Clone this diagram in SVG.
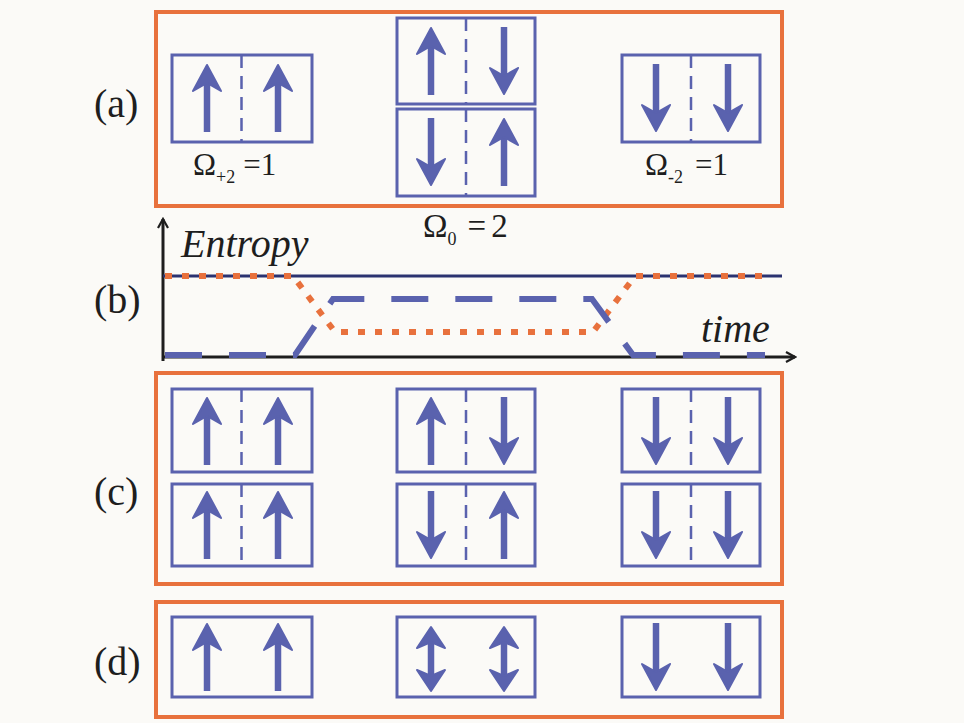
<svg xmlns="http://www.w3.org/2000/svg" width="964" height="723" viewBox="0 0 964 723">
  <style>
    .panel { fill: none; stroke: #E8713D; stroke-width: 4; }
    .cell { fill: none; stroke: #5A62AE; stroke-width: 3; }
    .div { stroke: #5A62AE; stroke-width: 2.5; stroke-dasharray: 13 8; }
    .shaft { stroke: #5A62AE; stroke-width: 6.5; fill: none; }
    .head { fill: #5A62AE; stroke: #5A62AE; stroke-width: 2; stroke-linejoin: round; }
    .serif { font-family: "Liberation Serif", "Times New Roman", serif; fill: #1E1E1E; }
    .lbl { font-size: 40px; }
    .om { font-size: 31px; }
    .sub { font-size: 18px; }
    .ax { font-style: italic; font-size: 40px; }
  </style>
  <defs>
    <!-- spin arrows, drawn around a local origin at the cell column -->
    <g id="up">
      <line class="shaft" x1="0" y1="34" x2="0" y2="-20"/>
      <path class="head" d="M0,-33 L14,-7 L0,-15 L-14,-7 Z"/>
    </g>
    <g id="down">
      <line class="shaft" x1="0" y1="-34" x2="0" y2="20"/>
      <path class="head" d="M0,33 L14,7 L0,15 L-14,7 Z"/>
    </g>
    <g id="both">
      <line class="shaft" x1="0" y1="-18" x2="0" y2="18"/>
      <path class="head" d="M0,-32 L14,-11 L0,-17 L-14,-11 Z"/>
      <path class="head" d="M0,32 L14,11 L0,17 L-14,11 Z"/>
    </g>
    <marker id="axh" viewBox="0 0 12 12" refX="10" refY="6" markerWidth="12" markerHeight="12" orient="auto" markerUnits="userSpaceOnUse">
      <path d="M1,1 L10,6 L1,11" fill="none" stroke="#1E1E1E" stroke-width="2.2"/>
    </marker>
  </defs>

  <rect width="964" height="723" fill="#FBFAF7"/>

  <!-- row labels -->
  <g class="serif lbl">
    <text x="94" y="117">(a)</text>
    <text x="94" y="313">(b)</text>
    <text x="94" y="505">(c)</text>
    <text x="94" y="675">(d)</text>
  </g>

  <!-- (a) microstates grouped by total spin -->
  <g id="panel-a">
    <rect class="panel" x="156" y="12" width="626" height="194"/>
    <g id="a-plus2">
      <rect class="cell" x="172" y="55" width="140" height="87"/>
      <line class="div" x1="241.5" y1="55" x2="241.5" y2="142"/>
      <use href="#up" x="207" y="98"/>
      <use href="#up" x="278" y="98"/>
      <text class="serif om" x="193" y="175">Ω<tspan class="sub" dy="8">+2</tspan><tspan dy="-8" dx="8">=1</tspan></text>
    </g>
    <g id="a-zero">
      <rect class="cell" x="397" y="18" width="138" height="86"/>
      <line class="div" x1="466" y1="18" x2="466" y2="104"/>
      <use href="#up" x="431" y="61"/>
      <use href="#down" x="504" y="61"/>
      <rect class="cell" x="397" y="109" width="138" height="87"/>
      <line class="div" x1="466" y1="109" x2="466" y2="196"/>
      <use href="#down" x="431" y="152"/>
      <use href="#up" x="504" y="152"/>
      <text class="serif om" x="423" y="237" style="font-size:33px">Ω<tspan class="sub" dy="8">0</tspan><tspan dy="-8" dx="11">=</tspan><tspan dx="5">2</tspan></text>
    </g>
    <g id="a-minus2">
      <rect class="cell" x="622" y="55" width="138" height="87"/>
      <line class="div" x1="691" y1="55" x2="691" y2="142"/>
      <use href="#down" x="656" y="98"/>
      <use href="#down" x="728" y="98"/>
      <text class="serif om" x="645" y="175">Ω<tspan class="sub" dy="8">-2</tspan><tspan dy="-8" dx="12">=1</tspan></text>
    </g>
  </g>

  <!-- (b) entropy versus time -->
  <g id="panel-b">
    <line x1="163" y1="361" x2="163" y2="219" stroke="#1E1E1E" stroke-width="3" marker-end="url(#axh)"/>
    <line x1="162" y1="357" x2="795" y2="357" stroke="#1E1E1E" stroke-width="3" marker-end="url(#axh)"/>
    <text class="serif ax" x="181" y="257">Entropy</text>
    <text class="serif ax" x="701" y="342">time</text>
    <line x1="163" y1="276" x2="782" y2="276" stroke="#2B3270" stroke-width="3"/>
    <polyline points="165,276 293,276 335,332 593,332 635,276 764,276" fill="none" stroke="#E8713D" stroke-width="6" stroke-dasharray="7 10"/>
    <polyline points="165,355 295,355 333,299 592,299 633,355 765,355" fill="none" stroke="#5A62AE" stroke-width="6" stroke-dasharray="37 27"/>
  </g>

  <!-- (c) all microstates listed pairwise -->
  <g id="panel-c">
    <rect class="panel" x="156" y="373" width="626" height="211"/>
    <g id="c-col1">
      <rect class="cell" x="172" y="389" width="140" height="83"/>
      <line class="div" x1="241.5" y1="389" x2="241.5" y2="472"/>
      <use href="#up" x="207" y="431"/>
      <use href="#up" x="278" y="431"/>
      <rect class="cell" x="172" y="484" width="140" height="82"/>
      <line class="div" x1="241.5" y1="484" x2="241.5" y2="566"/>
      <use href="#up" x="207" y="525"/>
      <use href="#up" x="278" y="525"/>
    </g>
    <g id="c-col2">
      <rect class="cell" x="397" y="389" width="138" height="83"/>
      <line class="div" x1="466" y1="389" x2="466" y2="472"/>
      <use href="#up" x="431" y="431"/>
      <use href="#down" x="504" y="431"/>
      <rect class="cell" x="397" y="484" width="138" height="82"/>
      <line class="div" x1="466" y1="484" x2="466" y2="566"/>
      <use href="#down" x="431" y="525"/>
      <use href="#up" x="504" y="525"/>
    </g>
    <g id="c-col3">
      <rect class="cell" x="622" y="389" width="138" height="83"/>
      <line class="div" x1="691" y1="389" x2="691" y2="472"/>
      <use href="#down" x="656" y="431"/>
      <use href="#down" x="728" y="431"/>
      <rect class="cell" x="622" y="484" width="138" height="82"/>
      <line class="div" x1="691" y1="484" x2="691" y2="566"/>
      <use href="#down" x="656" y="525"/>
      <use href="#down" x="728" y="525"/>
    </g>
  </g>

  <!-- (d) single coarse-grained states -->
  <g id="panel-d">
    <rect class="panel" x="156" y="602" width="626" height="115"/>
    <g id="d-up">
      <rect class="cell" x="172" y="617" width="140" height="80"/>
      <use href="#up" x="207" y="657"/>
      <use href="#up" x="278" y="657"/>
    </g>
    <g id="d-mixed">
      <rect class="cell" x="397" y="617" width="138" height="80"/>
      <use href="#both" x="431" y="659"/>
      <use href="#both" x="504" y="659"/>
    </g>
    <g id="d-down">
      <rect class="cell" x="622" y="617" width="138" height="80"/>
      <use href="#down" x="656" y="657"/>
      <use href="#down" x="728" y="657"/>
    </g>
  </g>
</svg>
